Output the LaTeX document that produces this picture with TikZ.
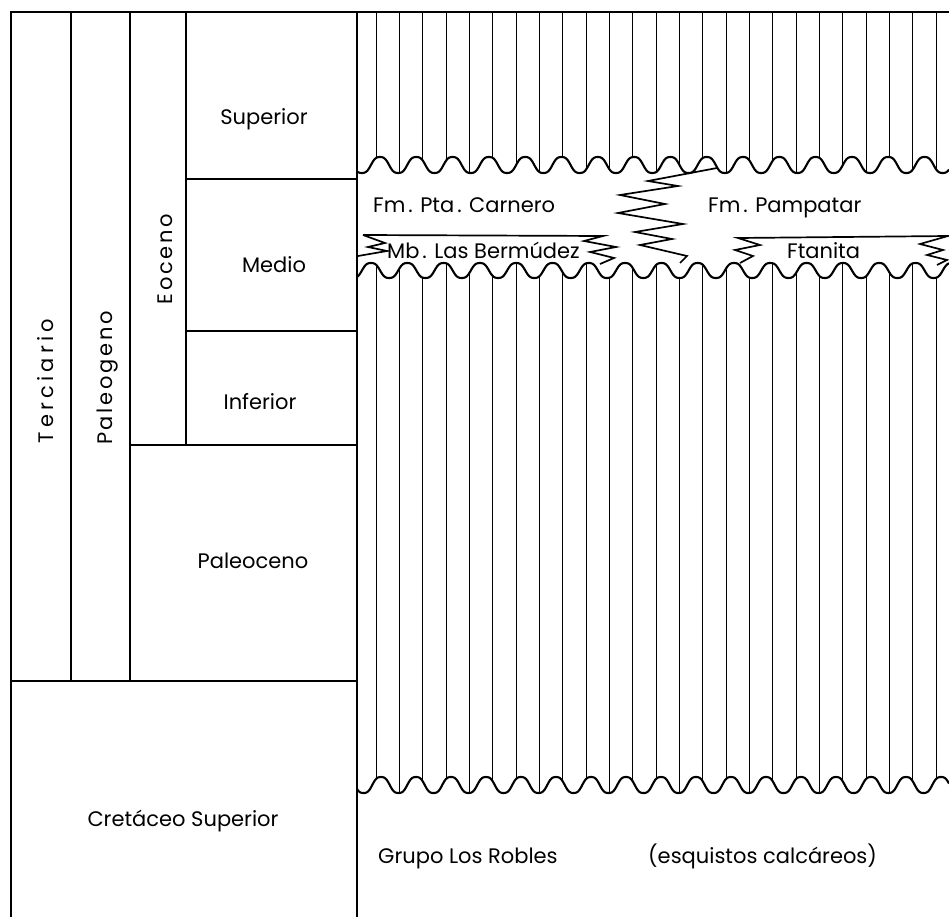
\documentclass[tikz,border=0pt]{standalone}
\usepackage{fontspec}
\setmainfont{Poppins}
\begin{document}
\begin{tikzpicture}[x=1pt,y=-1pt,
  frame/.style={line width=1.7pt},
  hatch/.style={line width=0.8pt},
  unconf/.style={line width=2.1pt, line join=round},
  zig/.style={line width=1.7pt, line join=miter},
  lbl/.style={font=\fontsize{21}{21}\selectfont, inner sep=0pt},
  vlbl/.style={inner sep=0pt, rotate=90, anchor=base,
    font=\fontsize{21}{21}\selectfont\addfontfeature{LetterSpace=#1}},
  declare function={
    % rounded-arch profile of an erosional contact (phase in degrees, 0..360)
    arch(\t)=(cos(\t)-0.08*cos(3*\t))/0.92;
    waveA(\u)=165-8*arch(mod((\u-380)/36.3*360+720,360));
    waveB(\u)=270.5-7.5*arch(mod((\u-371)/36.3*360+720,360));
    waveC(\u)=785-8*arch(mod((\u-381)/35*360+720,360));
  },
]
\useasboundingbox[fill=white] (0,0) rectangle (949,917);

% vertical hatching above the upper unconformity
\begin{scope}
  \clip (357,12) -- (949,12) -- plot[domain=949:357,samples=400] (\x,{waveA(\x)}) -- cycle;
  \foreach \k in {0,...,24} \draw[hatch] ({376+23.33*\k},10) -- ({376+23.33*\k},185);
\end{scope}

% vertical hatching between the middle and lower unconformities
\begin{scope}
  \clip plot[domain=357:949,samples=400] (\x,{waveB(\x)})
     -- plot[domain=949:357,samples=400] (\x,{waveC(\x)}) -- cycle;
  \foreach \k in {0,...,24} \draw[hatch] ({376+23.33*\k},255) -- ({376+23.33*\k},800);
\end{scope}

% unconformities
\draw[unconf] plot[domain=357:949,samples=400] (\x,{waveA(\x)});
\draw[unconf] plot[domain=357:949,samples=400] (\x,{waveB(\x)});
\draw[unconf] plot[domain=357:949,samples=400] (\x,{waveC(\x)});

% chronostratigraphic frame
\draw[frame] (11,917) -- (11,12) -- (949,12);
\draw[frame] (357,12) -- (357,917);
\draw[frame] (71,12) -- (71,681);
\draw[frame] (130,12) -- (130,681);
\draw[frame] (186,12) -- (186,445);
\draw[frame] (186,179) -- (357,179);
\draw[frame] (186,331) -- (357,331);
\draw[frame] (130,445) -- (357,445);
\draw[frame] (11,681) -- (357,681);

% interfingering contacts
\draw[zig] (363,235) -- (385,243) -- (368,247) -- (387,251) -- (358,256);
\draw[zig] (363,235) -- (603,236) -- (584,241) -- (616,247) -- (590,252) -- (614,258) -- (600,264);
\draw[zig] (717,168) -- (648,181) -- (678,186) -- (620,195) -- (665,204) -- (618,213)
   -- (683,224) -- (635,232) -- (672,239) -- (640,245) -- (687,256) -- (680,263);
\draw[zig] (740,263) -- (753,256) -- (735,250) -- (760,245) -- (738,238) -- (948,236)
   -- (920,244) -- (943,250) -- (927,255) -- (947,260) -- (937,265);

% column labels
\node[vlbl=20] (terc) at (53,381) {Terciario};
\node[vlbl=13] (paleog) at (112,378) {Paleogeno};
\node[vlbl=13] (eoc) at (172,259) {Eoceno};

\node[lbl, anchor=base] (sup) at (264,125) {Superior};
\node[lbl, anchor=base] (med) at (274,272) {Medio};
\node[lbl, anchor=base] (inf) at (260,409) {Inferior};
\node[lbl, anchor=base] (paleoc) at (253,568) {Paleoceno};
\node[lbl, anchor=base] (cret) at (183,826) {Cretáceo Superior};

% lithostratigraphic labels
\node[lbl, anchor=base west] (carnero) at (373,213) {Fm\kern3pt. Pta\kern3pt. Carnero};
\node[lbl, anchor=base west] (pampatar) at (708,213) {Fm\kern3pt. Pampatar};
\node[lbl, anchor=base west] (bermudez) at (387,258) {Mb\kern3pt. Las Bermúdez};
\node[lbl, anchor=base west] (ftanita) at (787,258) {Ftanita};
\node[lbl, anchor=base west] (robles) at (378,863) {Grupo Los Robles};
\node[lbl, anchor=base west] (esq) at (648,863) {(esquistos calcáreos)};
\end{tikzpicture}
\end{document}
